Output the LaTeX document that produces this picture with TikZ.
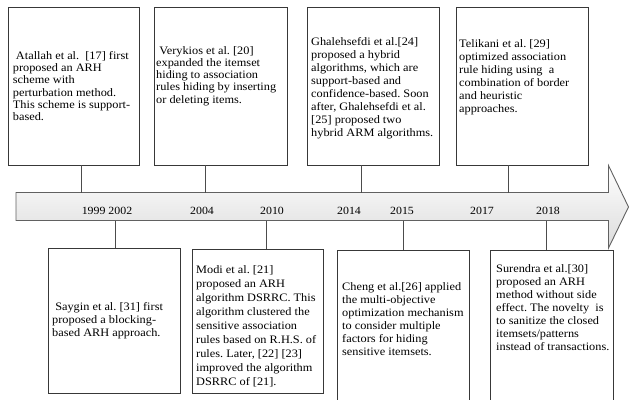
\documentclass[tikz,border=0pt]{standalone}
\usepackage{fontspec}
\setmainfont{Liberation Serif}[FakeStretch=1.08]
\begin{document}
\frenchspacing
\begin{tikzpicture}[x=1pt,y=-1pt,
  boxnode/.style={draw=black!78, line width=0.9pt, inner sep=0pt, fill=white},
  conn/.style={draw=black!70, line width=0.9pt},
  txt/.style={anchor=west, align=left, inner sep=0pt, text=black},
  fa/.style={font=\fontsize{11.4}{12.2}\selectfont},
  fb/.style={font=\fontsize{11.4}{13}\selectfont},
  fm/.style={font=\fontsize{11.4}{14}\selectfont},
  yr/.style={anchor=base, inner sep=0pt, font=\fontsize{11}{12}\selectfont}]
\useasboundingbox (0,0) rectangle (629,399);
\begin{scope}
\clip (0,0) rectangle (629,399);
% arrow
\draw[draw=black!62, line width=0.9pt, top color=white, bottom color=black!14]
  (16,192.5) -- (608.5,192.5) -- (608.5,165.5) -- (628.5,207) -- (608.5,248)
  -- (608.5,220.5) -- (16,220.5) -- cycle;
% top boxes
\node[boxnode, minimum width=131pt, minimum height=158pt] (b1) at (73.5,86) {};
\node[boxnode, minimum width=133pt, minimum height=158pt] (b2) at (220.5,86) {};
\node[boxnode, minimum width=132pt, minimum height=158pt] (b3) at (373,86) {};
\node[boxnode, minimum width=132pt, minimum height=158pt] (b4) at (522,86) {};
% bottom boxes
\node[boxnode, minimum width=132pt, minimum height=145pt] (b5) at (114,320.5) {};
\node[boxnode, minimum width=131pt, minimum height=144pt] (b6) at (257.5,321) {};
\node[boxnode, minimum width=132pt, minimum height=160pt] (b7) at (403,330) {};
\node[boxnode, minimum width=123pt, minimum height=160pt] (b8) at (551.5,330) {};
% connector points on the arrow
\coordinate (a1) at (81.7,192.5);
\coordinate (a2) at (205,192.5);
\coordinate (a3) at (361.7,192.5);
\coordinate (a4) at (508,192.5);
\coordinate (d1) at (115.7,220.5);
\coordinate (d2) at (266,220.5);
\coordinate (d3) at (403.3,220.5);
\coordinate (d4) at (546,220.5);
\draw[conn] (b1.south -| a1) -- (a1);
\draw[conn] (b2.south -| a2) -- (a2);
\draw[conn] (b3.south -| a3) -- (a3);
\draw[conn] (b4.south -| a4) -- (a4);
\draw[conn] (d1) -- (b5.north -| d1);
\draw[conn] (d2) -- (b6.north -| d2);
\draw[conn] (d3) -- (b7.north -| d3);
\draw[conn] (d4) -- (b8.north -| d4);
% years
\node[yr] (y1) at (107,214) {1999 2002};
\node[yr] (y2) at (202,214) {2004};
\node[yr] (y3) at (272,214) {2010};
\node[yr] (y4) at (349,214) {2014};
\node[yr] (y5) at (402,214) {2015};
\node[yr] (y6) at (482,214) {2017};
\node[yr] (y7) at (548,214) {2018};
% texts
\node[txt, fa] (t1) at (12.7,86) {\ Atallah et al.\ \ [17] first\\proposed an ARH\\scheme with\\perturbation method.\\This scheme is support-\\based.};
\node[txt, fa] (t2) at (156,76) {\ Verykios et al. [20]\\expanded the itemset\\hiding to association\\rules hiding by inserting\\or deleting items.};
\node[txt, fb] (t3) at (311,88) {Ghalehsefdi et al.[24]\\proposed a hybrid\\algorithms, which are\\support-based and\\confidence-based. Soon\\after, Ghalehsefdi et al.\\{[25]} proposed two\\hybrid ARM algorithms.};
\node[txt, fb] (t4) at (459,77) {Telikani et al. [29]\\optimized association\\rule hiding using\ \ a\\combination of border\\and heuristic\\approaches.};
\node[txt, fb] (t5) at (52,321) {\ Saygin et al. [31] first\\proposed a blocking-\\based ARH approach.};
\node[txt, fm] (t6) at (196,326) {Modi et al. [21]\\proposed an ARH\\algorithm DSRRC. This\\algorithm clustered the\\sensitive association\\rules based on R.H.S. of\\rules. Later, [22] [23]\\improved the algorithm\\DSRRC of [21].};
\node[txt, fb] (t7) at (342,319) {Cheng et al.[26] applied\\the multi-objective\\optimization mechanism\\to consider multiple\\factors for hiding\\sensitive itemsets.};
\node[txt, fb] (t8) at (496,308) {Surendra et al.[30]\\proposed an ARH\\method without side\\effect. The novelty\ \ is\\to sanitize the closed\\itemsets/patterns\\instead of transactions.};
\end{scope}
\end{tikzpicture}
\end{document}
